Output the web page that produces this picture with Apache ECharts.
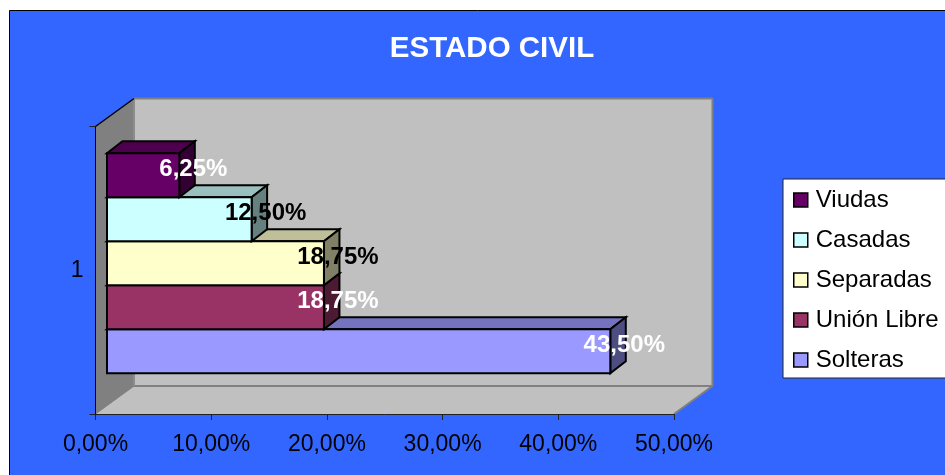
<!DOCTYPE html>
<html><head><meta charset="utf-8">
<style>html,body{margin:0;padding:0;background:#fff;overflow:hidden}#c{width:945px;height:475px}</style>
<script src="https://cdn.jsdelivr.net/npm/echarts@6/dist/echarts.min.js"></script>
</head><body><div id="c"></div>
<script>
const categories = ['1'];
const names = ['Solteras','Unión Libre','Separadas','Casadas','Viudas'];
const values = [43.5,18.75,18.75,12.5,6.25];
const labels = ['43,50%','18,75%','18,75%','12,50%','6,25%'];
const legendOrder = ['Viudas','Casadas','Separadas','Unión Libre','Solteras'];
const tickValues = {min:0,max:50,interval:10};
const front = ['#9999FF','#993366','#FFFFCC','#CCFFFF','#660066'];
const topc  = ['#7373BF','#732640','#BFBF99','#99BFBF','#4D004D'];
const side  = ['#4D4D80','#4D1A33','#808066','#668080','#330033'];
const labelColor = ['#fff','#fff','#000','#000','#fff'];
const FONT = '"Liberation Sans",Arial,sans-serif';
const WALL_DX=38.5, WALL_DY=-28, BAR_DX=15.5, BAR_DY=-12, BAR_H=44, INSET=11.5, CENTER_SHIFT=-7;

function poly(points,fill,stroke,lw){
  return {type:'polygon',shape:{points},style:{fill,stroke:stroke||'none',lineWidth:lw||0,lineJoin:'miter'}};
}
function line(a,b,stroke,lw){
  return {type:'line',shape:{x1:a[0],y1:a[1],x2:b[0],y2:b[1]},style:{stroke,lineWidth:lw}};
}
function renderWalls(params,api){
  const bl=api.coord([0,0]), br=api.coord([50,0]);
  const h=api.size([0,1])[1];
  const x0=bl[0], x1=br[0], yb=bl[1]+h/2, yt=bl[1]-h/2;
  const bx0=x0+WALL_DX, bx1=x1+WALL_DX, byb=yb+WALL_DY, byt=yt+WALL_DY;
  return {type:'group',children:[
    poly([[bx0,byt],[bx1,byt],[bx1,byb],[bx0,byb]],'#C0C0C0'),
    poly([[x0,yt],[bx0,byt],[bx0,byb],[x0,yb]],'#808080'),
    poly([[x0,yb],[x1,yb],[bx1,byb],[bx0,byb]],'#C0C0C0'),
    line([bx0,byt],[bx1,byt],'#808080',2),
    line([bx1,byt],[bx1,byb],'#808080',2),
    line([bx0,byb],[bx1,byb],'#808080',2),
    line([bx0,byt],[bx0,byb],'#8c8c8c',2),
    line([x0,yb],[bx0,byb],'#808080',1),
    line([x1,yb],[bx1,byb],'#808080',2),
    line([x0,yt],[bx0,byt],'#000',1.5)
  ]};
}
function renderBar(i){
  return function(params,api){
    const p=api.coord([api.value(0),0]), z=api.coord([0,0]);
    const xl=z[0]+INSET, xr=p[0]+INSET;
    const bottom=z[1]+CENTER_SHIFT+BAR_H*2.5-i*BAR_H, tp=bottom-BAR_H;
    const S={stroke:'#000',lw:2};
    return {type:'group',children:[
      poly([[xl,tp],[xr,tp],[xr+BAR_DX,tp+BAR_DY],[xl+BAR_DX,tp+BAR_DY]],topc[i],S.stroke,S.lw),
      poly([[xr,tp],[xr+BAR_DX,tp+BAR_DY],[xr+BAR_DX,bottom+BAR_DY],[xr,bottom]],side[i],S.stroke,S.lw),
      poly([[xl,tp],[xr,tp],[xr,bottom],[xl,bottom]],front[i],S.stroke,S.lw)
    ]};
  };
}
function renderLabel(i){
  return function(params,api){
    const p=api.coord([api.value(0),0]);
    const bottom=p[1]+CENTER_SHIFT+BAR_H*2.5-i*BAR_H;
    return {type:'text',style:{text:labels[i],x:p[0]+INSET+14,y:bottom-BAR_H/2-6,
      fill:labelColor[i],font:'bold 24px '+FONT,align:'center',verticalAlign:'middle'}};
  };
}
const series=[{type:'custom',name:'walls',silent:true,z:1,clip:false,coordinateSystem:'cartesian2d',
  renderItem:renderWalls,data:[[0,0]],encode:{x:0,y:1}}];
names.forEach((n,i)=>series.push({type:'custom',name:n,z:3+i,clip:false,silent:true,
  renderItem:renderBar(i),data:[[values[i],0]],encode:{x:0,y:1},
  itemStyle:{color:front[i],borderColor:'#000',borderWidth:2}}));
names.forEach((n,i)=>series.push({type:'custom',name:n+' etiqueta',z:20,clip:false,silent:true,
  renderItem:renderLabel(i),data:[[values[i],0]],encode:{x:0,y:1}}));

const chart=echarts.init(document.getElementById('c'),null,{renderer:'canvas'});
chart.setOption({
  animation:false,
  backgroundColor:'#fff',
  graphic:[{type:'rect',z:-10,silent:true,shape:{x:9.5,y:10.5,width:1000,height:600},
    style:{fill:'#3366FF',stroke:'#000',lineWidth:1}}],
  title:{text:'ESTADO CIVIL',left:487,top:29,textAlign:'center',z:30,
    textStyle:{color:'#fff',fontFamily:FONT,fontWeight:'bold',fontSize:29.5}},
  grid:{left:95.5,right:271,top:126.5,bottom:61,containLabel:false},
  xAxis:{type:'value',min:tickValues.min,max:tickValues.max,interval:tickValues.interval,z:10,
    splitLine:{show:false},
    axisLine:{show:true,lineStyle:{color:'#222',width:1}},
    axisTick:{show:true,length:6,lineStyle:{color:'#222'}},
    axisLabel:{margin:19,color:'#000',fontFamily:FONT,fontSize:23,
      formatter:v=>v.toFixed(2).replace('.',',')+'%'}},
  yAxis:{type:'category',data:categories,z:10,
    axisLine:{show:true,lineStyle:{color:'#000',width:1}},
    axisTick:{show:true,length:6,alignWithLabel:false,lineStyle:{color:'#222'}},
    axisLabel:{margin:12,color:'#000',fontFamily:FONT,fontSize:23}},
  legend:{orient:'vertical',left:783,top:179,data:legendOrder,icon:'rect',
    itemWidth:14,itemHeight:14,itemGap:16,selectedMode:false,
    padding:[9,40,6,10],backgroundColor:'#fff',borderColor:'#222',borderWidth:1,
    itemStyle:{borderColor:'#000',borderWidth:1.5},
    textStyle:{color:'#000',fontFamily:FONT,fontSize:24,padding:[0,0,0,3]}},
  series
});
</script></body></html>
